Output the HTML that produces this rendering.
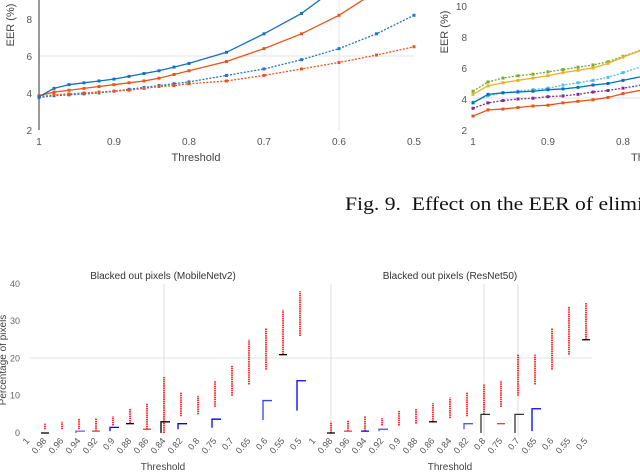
<!DOCTYPE html>
<html><head><meta charset="utf-8">
<style>
html,body{margin:0;padding:0;background:#fff;}
svg{display:block;font-family:"Liberation Sans",sans-serif;}
</style></head>
<body>
<svg id="fig" width="640" height="472" viewBox="0 0 640 472" xmlns="http://www.w3.org/2000/svg">
  <g>
    <line x1="39" y1="56" x2="414" y2="56" stroke="#e3e3e3" stroke-width="1"/>
    <line x1="339" y1="0" x2="339" y2="130" stroke="#e3e3e3" stroke-width="1"/>
    <line x1="39" y1="0" x2="39" y2="130" stroke="#333" stroke-width="1"/>
    <text x="14" y="25" transform="rotate(-90 14 25)" text-anchor="middle" font-size="11" fill="#444">EER (%)</text>
    <text x="196" y="161" text-anchor="middle" font-size="11" fill="#444">Threshold</text>
    <g id="tl"></g>
  </g>
  <g>
    <line x1="473" y1="98" x2="640" y2="98" stroke="#e3e3e3" stroke-width="1"/>
    <text x="448" y="32" transform="rotate(-90 448 32)" text-anchor="middle" font-size="11" fill="#444">EER (%)</text>
    <text x="631" y="161" font-size="11" fill="#444">Threshold</text>
    <g id="tr"></g>
  </g>
  <text x="345" y="210" font-family="Liberation Serif, serif" font-size="19" fill="#111" textLength="298" lengthAdjust="spacingAndGlyphs" xml:space="preserve">Fig. 9.  Effect on the EER of elimi</text>

  <g>
    <text x="163" y="279" text-anchor="middle" font-size="10" fill="#333">Blacked out pixels (MobileNetv2)</text>
    <line x1="30" y1="358" x2="315" y2="358" stroke="#e3e3e3"/>
    <line x1="164" y1="284" x2="164" y2="436" stroke="#ddd"/>
    <text x="6" y="360" transform="rotate(-90 6 360)" text-anchor="middle" font-size="10" fill="#444">Percentage of pixels</text>
    <text x="163" y="470" text-anchor="middle" font-size="10" fill="#444">Threshold</text>
    <g id="bl"></g>
  </g>
  <g>
    <text x="450" y="279" text-anchor="middle" font-size="10" fill="#333">Blacked out pixels (ResNet50)</text>
    <line x1="310" y1="358" x2="592" y2="358" stroke="#e3e3e3"/>
    <line x1="331" y1="284" x2="331" y2="436" stroke="#ddd"/>
    <line x1="484" y1="284" x2="484" y2="436" stroke="#ddd"/>
    <line x1="518" y1="284" x2="518" y2="436" stroke="#ddd"/>
    <text x="450" y="470" text-anchor="middle" font-size="10" fill="#444">Threshold</text>
    <g id="br"></g>
  </g>
</svg>
<script>
const NS="http://www.w3.org/2000/svg";
const thresholds=[1,0.98,0.96,0.94,0.92,0.9,0.88,0.86,0.84,0.82,0.8,0.75,0.7,0.65,0.6,0.55,0.5];
const tlBlueSolid=[3.8,4.25,4.45,4.55,4.65,4.75,4.9,5.05,5.2,5.4,5.6,6.2,7.2,8.3,9.8,11.5,13.5];
const tlRedSolid=[3.85,4.05,4.15,4.25,4.35,4.45,4.55,4.65,4.8,5.0,5.2,5.7,6.4,7.2,8.2,9.5,11];
const tlBlueDot=[3.75,3.85,3.9,3.95,4.0,4.1,4.2,4.3,4.4,4.5,4.6,4.95,5.3,5.8,6.4,7.2,8.2];
const tlRedDot=[3.8,3.9,3.95,4.0,4.05,4.1,4.15,4.25,4.35,4.4,4.5,4.65,4.95,5.3,5.65,6.05,6.5];
const tlTicksX=[1,0.9,0.8,0.7,0.6,0.5];
const tlTicksY=[2,4,6,8];
const trGreen=[4.5,5.1,5.35,5.5,5.6,5.75,5.9,6.05,6.2,6.4,6.75,7.6];
const trOrange=[4.3,4.85,5.05,5.2,5.35,5.5,5.7,5.85,6.0,6.3,6.7,7.6];
const trLightBlue=[3.8,4.2,4.4,4.5,4.6,4.7,4.9,5.05,5.2,5.4,5.7,6.5];
const trBlue=[3.75,4.3,4.4,4.45,4.5,4.6,4.65,4.75,4.9,5.0,5.2,5.7];
const trPurple=[3.4,3.75,3.9,4.0,4.05,4.15,4.2,4.3,4.45,4.55,4.7,5.1];
const trRed=[2.9,3.3,3.35,3.45,3.55,3.6,3.75,3.85,3.95,4.1,4.35,4.8];
const trTicksX=[1,0.9,0.8];
const trTicksY=[2,4,6,8,10];
const boxCats=["1","0.98","0.96","0.94","0.92","0.9","0.88","0.86","0.84","0.82","0.8","0.75","0.7","0.65","0.6","0.55","0.5"];
const mbOutLow=[null,1,1,1,0.5,2,2.5,1,0,4.5,5,7,10,13,17,21,26];
const mbOutHigh=[null,2.5,3,4,4,4.5,6.5,8,15,11,10,14,18,25,28,33,38];
const mbBoxLow=[null,0,null,0,0.5,0.5,2.5,1,0,1,null,1.4,null,null,3.5,21,6];
const mbBoxHigh=[null,0,null,0.5,0.5,1.5,2.5,1,3,2.5,null,3.7,null,null,8.7,21,14];
const mbBoxColor=[null,"#000",null,"#5060ff","#e04040","#00f","#000","#e04040","#000","#00f",null,"#00f",null,null,"#3344ee","#000","#00f"];
const rnOutLow=[null,0,0.5,0.5,2,2,2.5,3,4,4.5,5,7,10,13,17,21,25];
const rnOutHigh=[null,3,3.5,4.5,4,6,6.5,8,9.5,11,13,14,21,21,28,34,35];
const rnBoxLow=[null,0,0.5,0.5,0.5,null,null,3,null,1,0,2.5,0,0.5,null,null,25];
const rnBoxHigh=[null,0,0.5,0.5,1,null,null,3,null,2.5,5,2.5,5,6.5,null,null,25];
const rnBoxColor=[null,"#000","#e04040","#00f","#44f",null,null,"#000",null,"#55f","#333","#e04040","#333","#00f",null,null,"#000"];
const boxTicksY=[0,10,20,30,40];

function el(tag,attrs,parent,txt){const e=document.createElementNS(NS,tag);for(const k in attrs)e.setAttribute(k,attrs[k]);if(txt!=null)e.textContent=txt;parent.appendChild(e);return e;}

(function(){
  const g=document.getElementById('tl');
  const X=t=>39+(1-t)*750, Y=v=>130-(v-2)*18.5;
  tlTicksX.forEach(t=>{const e=el('text',{x:X(t),y:145,'text-anchor':'middle','font-size':10,fill:'#555'},g,String(t));
    
    });
  tlTicksY.forEach(v=>{const e=el('text',{x:32,y:Y(v)+4,'text-anchor':'end','font-size':10,fill:'#555'},g,String(v));
    
    });
  const series=[[tlBlueDot,'#1f77d0','2,1.5'],[tlRedDot,'#e8541a','2,1.5'],[tlRedSolid,'#e8541a',null],[tlBlueSolid,'#1470c0',null]];
  series.forEach(s=>{
    const pts=s[0].map((v,j)=>X(thresholds[j])+','+Y(v)).join(' ');
    const a={points:pts,fill:'none',stroke:s[1],'stroke-width':1.3};if(s[2])a['stroke-dasharray']=s[2];
    const pl=el('polyline',a,g);
    
    
    s[0].forEach((v,j)=>{const m=el('rect',{x:X(thresholds[j])-1.5,y:Y(v)-1.5,width:3,height:3,fill:s[1]},g);
      
      });
  });
})();
(function(){
  const g=document.getElementById('tr');
  const X=t=>473+(1-t)*750, Y=v=>130-(v-2)*15.5;
  trTicksX.forEach(t=>{const e=el('text',{x:X(t),y:145,'text-anchor':'middle','font-size':10,fill:'#555'},g,String(t));
    
    });
  trTicksY.forEach(v=>{const e=el('text',{x:467,y:Y(v)+4,'text-anchor':'end','font-size':10,fill:'#555'},g,String(v));
    
    });
  const series=[[trGreen,'#77ac30','2,1.5'],[trOrange,'#edb120',null],[trLightBlue,'#4dbeee','2,1.5'],[trBlue,'#0072bd',null],[trPurple,'#7e2f8e','2,1.5'],[trRed,'#e8541a',null]];
  series.forEach(s=>{
    const pts=s[0].map((v,j)=>X(thresholds[j])+','+Y(v)).join(' ');
    const a={points:pts,fill:'none',stroke:s[1],'stroke-width':1.3};if(s[2])a['stroke-dasharray']=s[2];
    const pl=el('polyline',a,g);
    
    
    s[0].forEach((v,j)=>{const m=el('rect',{x:X(thresholds[j])-1.5,y:Y(v)-1.5,width:3,height:3,fill:s[1]},g);
      
      });
  });
})();
function boxChart(id,x0,low,high,bl,bh,bc,showY){
  const g=document.getElementById(id);
  const X=i=>x0+i*17, Y=v=>433-v*3.73;
  if(showY)boxTicksY.forEach(v=>{const e=el('text',{x:20,y:Y(v)+3,'text-anchor':'end','font-size':9,fill:'#666'},g,String(v));
    
    });
  boxCats.forEach((c,i)=>{
    const x=X(i),y=441;
    const t=el('text',{x:x+2,y:y,'text-anchor':'end','font-size':9,fill:'#555',transform:`rotate(-50 ${x+2} ${y})`},g,c);
    
    
    if(low[i]!=null){
      const r=el('line',{x1:x,x2:x,y1:Y(low[i]),y2:Y(high[i]),stroke:'#f00','stroke-width':1.6,'stroke-dasharray':'1.5,0.7'},g);
      
      
    }
    if(bl[i]!=null){
      let b;
      if(bh[i]-bl[i]<0.3){
        b=el('line',{x1:x-4,x2:x+4,y1:Y(bl[i]),y2:Y(bl[i]),stroke:bc[i],'stroke-width':1.3},g);
      } else {
        b=el('polyline',{points:`${x-3},${Y(bl[i])} ${x-3},${Y(bh[i])} ${x+6},${Y(bh[i])}`,fill:'none',stroke:bc[i],'stroke-width':1.3},g);
      }
      
      
    }
  });
}
boxChart('bl',28,mbOutLow,mbOutHigh,mbBoxLow,mbBoxHigh,mbBoxColor,true);
boxChart('br',314,rnOutLow,rnOutHigh,rnBoxLow,rnBoxHigh,rnBoxColor,false);
</script>
</body></html>
